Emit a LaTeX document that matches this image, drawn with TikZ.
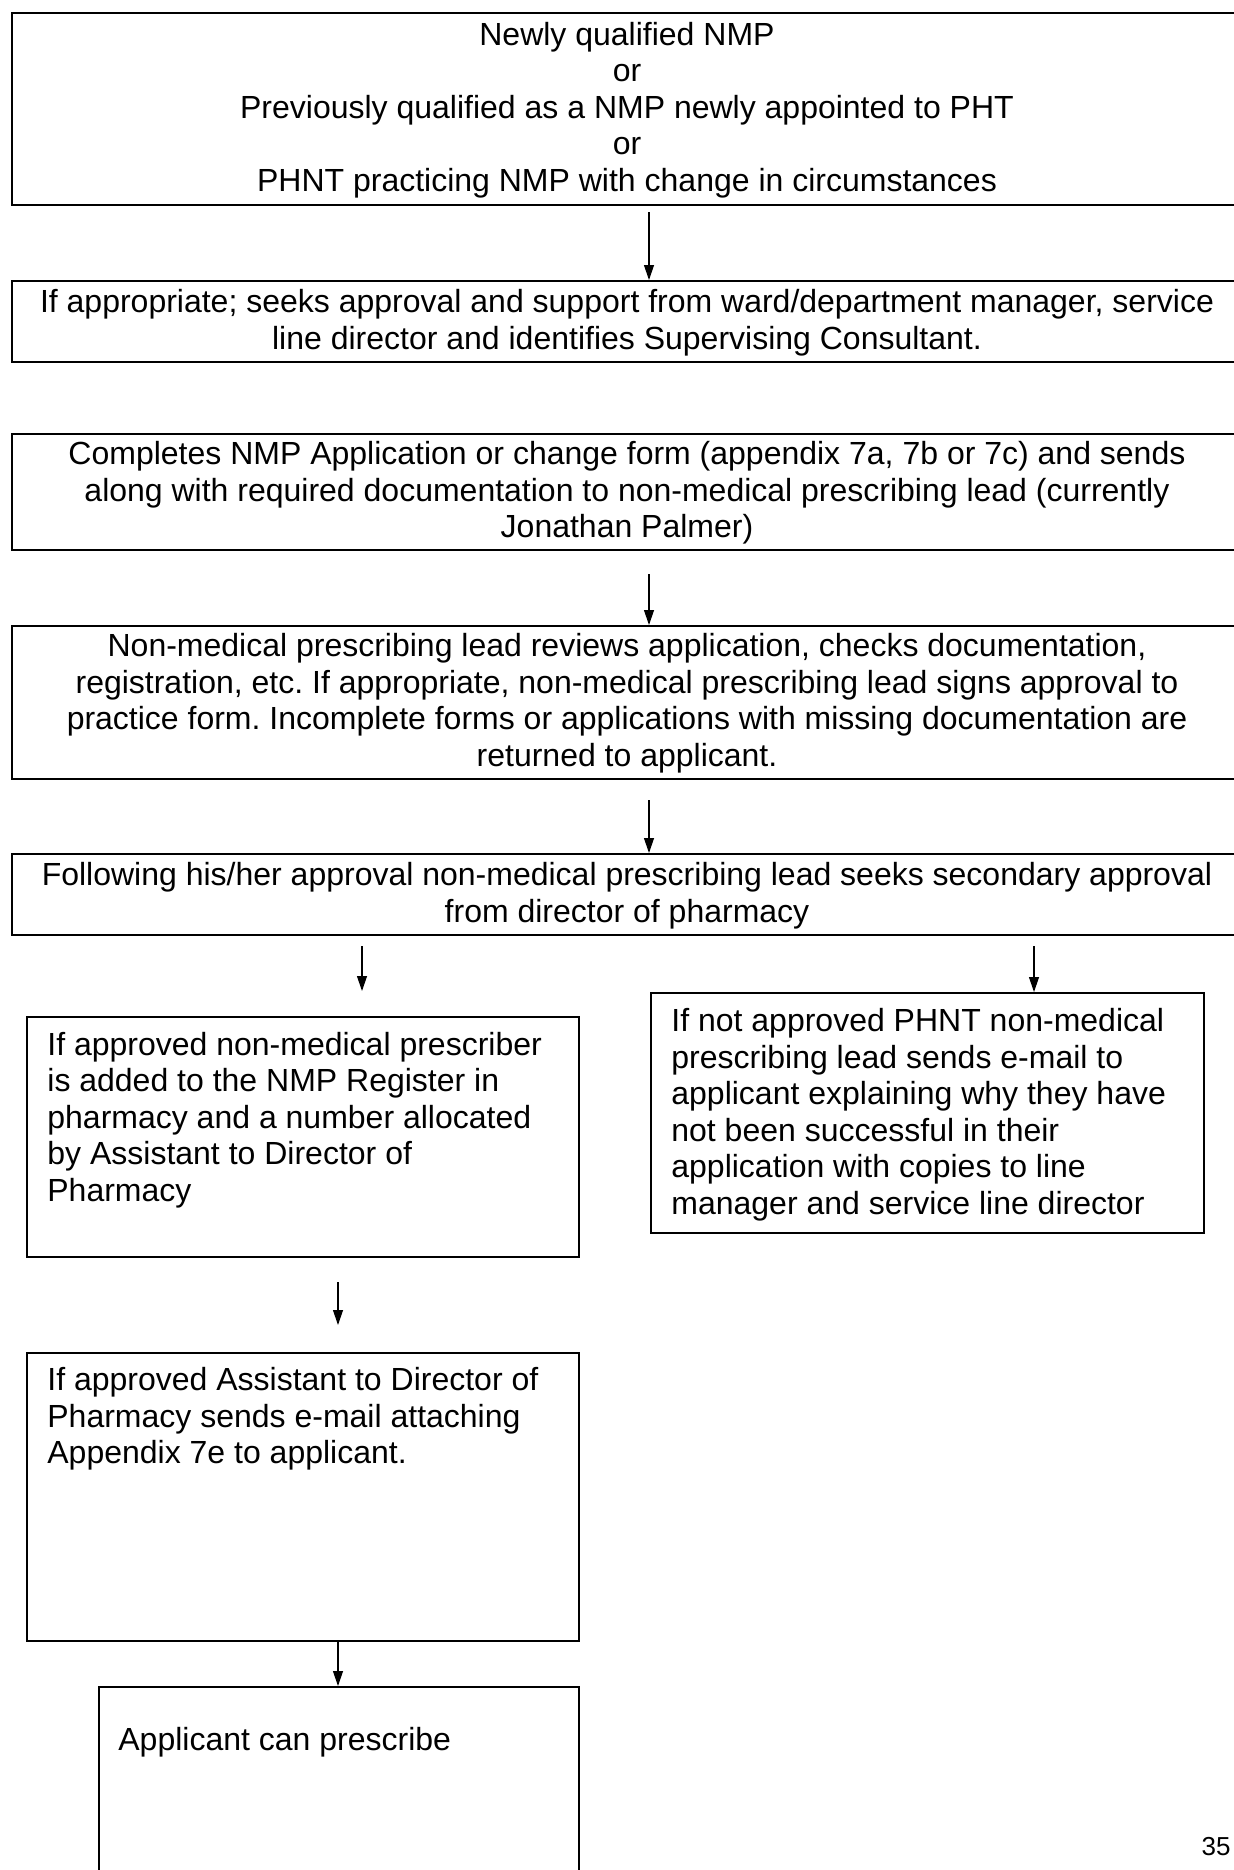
\documentclass[tikz,border=0pt]{standalone}
\usepackage{fontspec}
\setmainfont{Liberation Sans}
\usetikzlibrary{arrows.meta}
\frenchspacing
\begin{document}
\begin{tikzpicture}[x=0.5pt,y=-0.5pt,
  box/.style={draw, line width=1.2pt, inner sep=0pt, anchor=north west},
  txt/.style={inner sep=0pt, font=\fontsize{16}{18.25}\selectfont},
  arr/.style={-{Triangle[length=7.5pt,width=5pt]}, line width=0.6pt}]
\clip (0,0) rectangle (1234,1870);
\fill[white] (0,0) rectangle (1234,1870);
% boxes
\node[box, minimum width=616pt, minimum height=96pt] (b1) at (11,12) {};
\node[box, minimum width=616pt, minimum height=40.5pt] (b2) at (11,280) {};
\node[box, minimum width=616pt, minimum height=58pt] (b3) at (11,433) {};
\node[box, minimum width=616pt, minimum height=76.5pt] (b4) at (11,625) {};
\node[box, minimum width=616pt, minimum height=40.5pt] (b5) at (11,853) {};
\node[box, minimum width=276pt, minimum height=120pt] (bA) at (26,1016) {};
\node[box, minimum width=276.5pt, minimum height=120pt] (bB) at (650,992) {};
\node[box, minimum width=276pt, minimum height=144pt] (bC) at (26,1352) {};
\node[box, minimum width=240pt, minimum height=125pt] (bD) at (98,1686) {};
% texts
\node[txt, align=center] (t1) at (627,110) {Newly qualified NMP\\or\\Previously qualified as a NMP newly appointed to PHT\\or\\PHNT practicing NMP with change in circumstances};
\node[txt, align=center] (t2) at (627,322.5) {If appropriate; seeks approval and support from ward/department manager, service\\line director and identifies Supervising Consultant.};
\node[txt, align=center] (t3) at (627,493) {Completes NMP Application or change form (appendix 7a, 7b or 7c) and sends\\along with required documentation to non-medical prescribing lead (currently\\Jonathan Palmer)};
\node[txt, align=center] (t4) at (627,703) {Non-medical prescribing lead reviews application, checks documentation,\\registration, etc. If appropriate, non-medical prescribing lead signs approval to\\practice form. Incomplete forms or applications with missing documentation are\\returned to applicant.};
\node[txt, align=center] (t5) at (627,895.5) {Following his/her approval non-medical prescribing lead seeks secondary approval\\from director of pharmacy};
\node[txt, align=left, anchor=west] (tA) at (47,1120) {If approved non-medical prescriber\\is added to the NMP Register in\\pharmacy and a number allocated\\by Assistant to Director of\\Pharmacy};
\node[txt, align=left, anchor=west] (tB) at (671,1114.5) {If not approved PHNT non-medical\\prescribing lead sends e-mail to\\applicant explaining why they have\\not been successful in their\\application with copies to line\\manager and service line director};
\node[txt, align=left, anchor=west] (tC) at (47,1419) {If approved Assistant to Director of\\Pharmacy sends e-mail attaching\\Appendix 7e to applicant.};
\node[txt, align=left, anchor=west] (tD) at (118,1742) {Applicant can prescribe};
\node[inner sep=0pt, font=\fontsize{13}{15}\selectfont] (pn) at (1216,1847) {35};
% connectors
\coordinate (xm) at (649,0);
\coordinate (xl) at (362,0);
\coordinate (xr) at (1034,0);
\coordinate (xc) at (338,0);
\draw[arr] ([yshift=-3pt]xm |- b1.south) -- (xm |- b2.north);
\draw[arr] ([yshift=-11.5pt]xm |- b3.south) -- (xm |- b4.north);
\draw[arr] ([yshift=-10pt]xm |- b4.south) -- (xm |- b5.north);
\draw[arr] ([yshift=-5pt]xl |- b5.south) -- ([yshift=12.5pt]xl |- bA.north);
\draw[arr] ([yshift=-5pt]xr |- b5.south) -- (xr |- bB.north);
\draw[arr] ([yshift=-12pt]xc |- bA.south) -- ([yshift=13.5pt]xc |- bC.north);
\draw[arr] (xc |- bC.south) -- (xc |- bD.north);
\end{tikzpicture}
\end{document}
